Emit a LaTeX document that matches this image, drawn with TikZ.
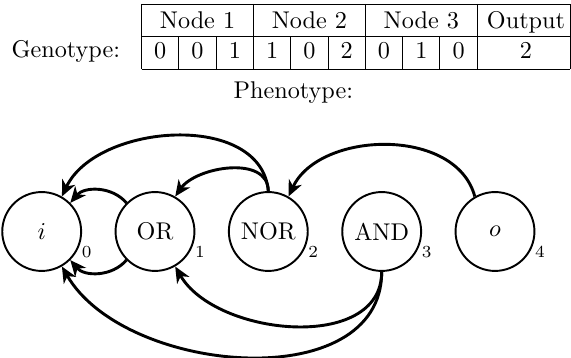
\documentclass[tikz,border=0pt]{standalone}
\usetikzlibrary{arrows.meta}
\begin{document}
\begin{tikzpicture}[x=0.41322pt,y=0.41322pt,
  gate/.style={circle,draw,thick,minimum size=32.6pt,inner sep=0pt},
  idx/.style={font=\scriptsize,inner sep=0pt},
  conn/.style={very thick,-{Stealth[length=6.6pt,width=5.8pt,inset=2pt]}},
  gridline/.style={line width=0.4pt},
  cell/.style={anchor=base,inner sep=0pt}]
\useasboundingbox (0,0) rectangle (571,358);
% genotype table
\draw[gridline] (141.5,354) -- (570,354)
  (141.5,321.5) -- (570,321.5)
  (141.5,289) -- (570,289);
\foreach \x in {141.5,253.4,365.3,477.2,570}
  \draw[gridline] (\x,354) -- (\x,289);
\foreach \x in {178.8,216.1,290.7,328,402.6,439.9}
  \draw[gridline] (\x,321.5) -- (\x,289);
\node[cell] (h1) at (197.5,329.7) {Node 1};
\node[cell] (h2) at (309.4,329.7) {Node 2};
\node[cell] (h3) at (421.3,329.7) {Node 3};
\node[cell] (h4) at (526,329.7) {Output};
\node[cell] (g1) at (160.2,299.7) {0};
\node[cell] (g2) at (197.5,299.7) {0};
\node[cell] (g3) at (234.8,299.7) {1};
\node[cell] (g4) at (272.1,299.7) {1};
\node[cell] (g5) at (309.4,299.7) {0};
\node[cell] (g6) at (346.7,299.7) {2};
\node[cell] (g7) at (384.0,299.7) {0};
\node[cell] (g8) at (421.3,299.7) {1};
\node[cell] (g9) at (458.6,299.7) {0};
\node[cell] (g10) at (526,299.7) {2};
\node[cell] (geno) at (65.8,300) {Genotype:};
\node[cell] (pheno) at (293.3,259) {Phenotype:};
% phenotype graph
\node[gate] (n0) at (41.7,126.5) {$i$};
\node[gate] (n1) at (155,126.5) {OR};
\node[gate] (n2) at (268.3,126.5) {NOR};
\node[gate] (n3) at (381.7,126.5) {AND};
\node[gate] (n4) at (495,126.5) {$o$};
\node[idx] (l0) at (86.7,106) {0};
\node[idx] (l1) at (200,106) {1};
\node[idx] (l2) at (313.3,106) {2};
\node[idx] (l3) at (426.7,106) {3};
\node[idx] (l4) at (540,106) {4};
\draw[conn] (n1.135) to[bend right=50] (n0.45);
\draw[conn] (n1.225) to[bend left=50] (n0.-45);
\draw[conn] (n2.90) to[out=90,in=55] (n1.60);
\draw[conn] (n2.90) to[out=95,in=65] (n0.60);
\draw[conn] (n4.120) to[out=105,in=65] (n2.60);
\draw[conn] (n3.-90) to[out=-90,in=-60] (n1.-60);
\draw[conn] (n3.-90) to[out=-90,in=-60] (n0.-60);
\end{tikzpicture}
\end{document}
